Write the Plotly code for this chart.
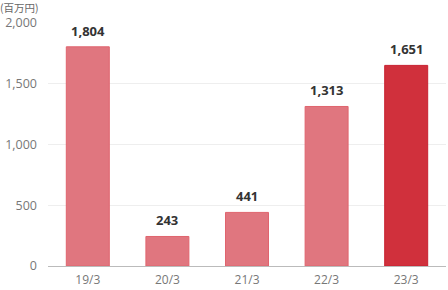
import plotly.graph_objects as go

categories = ["19/3", "20/3", "21/3", "22/3", "23/3"]
values = [1804, 243, 441, 1313, 1651]
labels = ["1,804", "243", "441", "1,313", "1,651"]
colors = ["#E0767F", "#E0767F", "#E0767F", "#E0767F", "#D0303C"]
lines = ["#E0646E", "#E0646E", "#E0646E", "#E0646E", "#C82030"]

fig = go.Figure(go.Bar(
    x=categories, y=values,
    marker=dict(color=colors, line=dict(color=lines, width=1)),
    width=0.54,
))
annots = [dict(x=c, y=v, text=t, showarrow=False, yanchor="bottom", yshift=5,
               font=dict(family="Open Sans, DejaVu Sans", size=13, color="#333333", weight="bold"))
          for c, v, t in zip(categories, values, labels)]
annots.append(dict(text="(百万円)", xref="paper", yref="paper", x=0, y=1,
                   xshift=-50, yshift=25, xanchor="left", yanchor="top",
                   showarrow=False,
                   font=dict(family="Noto Sans CJK JP", size=10.5, color="#666666")))
fig.update_layout(
    width=448, height=290, margin=dict(l=48, r=2, t=23, b=24, autoexpand=False),
    plot_bgcolor="white", paper_bgcolor="white", showlegend=False,
    font=dict(family="Open Sans, DejaVu Sans", size=12.5, color="#777777"),
    yaxis=dict(range=[0, 2000], tickvals=[0, 500, 1000, 1500, 2000],
               ticktext=["0", "500", "1,000", "1,500", "2,000"],
               showgrid=True, gridcolor="#EEEEEE", zeroline=False, ticks="",
               ticklabelstandoff=10, automargin=False),
    xaxis=dict(showline=True, linecolor="#BBBBBB", linewidth=1, ticks="",
               ticklabelstandoff=3, automargin=False, tickfont=dict(size=12)),
    annotations=annots,
)
fig.write_html("out.html")
